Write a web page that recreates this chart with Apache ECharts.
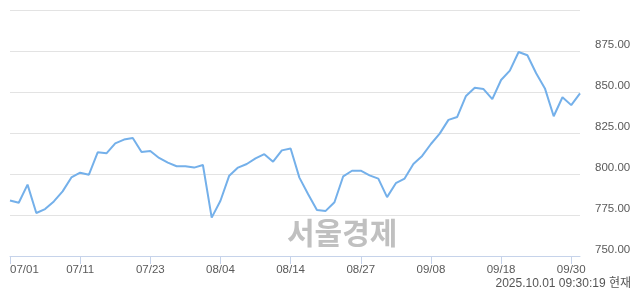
<!DOCTYPE html>
<html>
<head>
<meta charset="utf-8">
<script src="https://cdn.jsdelivr.net/npm/echarts@6/dist/echarts.min.js"></script>
<style>html,body{margin:0;padding:0;background:#fff}#c{width:640px;height:294px}</style>
</head>
<body>
<div id="c"></div>
<script>
const categories = [
 '07/01','07/02','07/03','07/04','07/07','07/08','07/09','07/10','07/11',
 '07/14','07/15','07/16','07/17','07/18','07/21','07/22','07/23',
 '07/24','07/25','07/28','07/29','07/30','07/31','08/01','08/04',
 '08/05','08/06','08/07','08/08','08/11','08/12','08/13','08/14',
 '08/18','08/19','08/20','08/21','08/22','08/25','08/26','08/27',
 '08/28','08/29','09/01','09/02','09/03','09/04','09/05','09/08',
 '09/09','09/10','09/11','09/12','09/15','09/16','09/17','09/18',
 '09/19','09/22','09/23','09/24','09/25','09/26','09/29','09/30','10/01'
];
const values = [
 783.8, 782.5, 793.5, 776.2, 778.6, 783.3, 789.4, 797.9, 800.8,
 799.6, 813.2, 812.6, 818.7, 821.0, 822.0, 813.4, 814.0,
 809.8, 806.9, 804.7, 804.7, 803.9, 805.5, 773.4, 783.7,
 799.0, 803.9, 806.1, 809.5, 812.1, 807.5, 814.4, 815.5,
 797.8, 787.7, 778.0, 777.5, 782.8, 798.6, 802.0, 802.0,
 799.2, 797.2, 785.9, 794.4, 797.2, 806.1, 811.0, 818.3,
 824.6, 833.0, 834.8, 847.6, 852.6, 851.8, 845.7, 857.3,
 863.0, 874.4, 872.4, 861.4, 852.2, 835.2, 846.8, 842.0, 849.2
];
const yTicks = { min: 750, max: 900, step: 25 };
const stampText = '2025.10.01 09:30:19 현재';
const watermarkText = '서울경제';

const chart = echarts.init(document.getElementById('c'), null, { renderer: 'canvas' });
const fontFam = '"Liberation Sans", Arial, "Noto Sans CJK KR", sans-serif';
chart.setOption({
  animation: false,
  backgroundColor: '#fff',
  grid: { left: 10, right: 60, top: 10, bottom: 38, containLabel: false },
  xAxis: {
    type: 'category',
    data: categories,
    boundaryGap: false,
    axisLine: { show: true, lineStyle: { color: '#c6d3ea', width: 1 } },
    axisTick: { show: true, interval: 7, length: 8, lineStyle: { color: '#c6d3ea' } },
    axisLabel: { interval: 7, margin: 8, color: '#5a5a5a', fontSize: 11.5, fontFamily: fontFam, alignMinLabel: 'left' },
    splitLine: { show: false }
  },
  yAxis: {
    type: 'value',
    position: 'right',
    min: yTicks.min, max: yTicks.max, interval: yTicks.step,
    axisLine: { show: false },
    axisTick: { show: false },
    axisLabel: {
      showMaxLabel: false, margin: 15, color: '#5a5a5a', fontSize: 11.5, fontFamily: fontFam,
      verticalAlign: 'bottom',
      formatter: v => v.toFixed(2)
    },
    splitLine: { show: true, lineStyle: { color: '#e3e3e3', width: 1 } }
  },
  graphic: [
    {
      type: 'text', left: 287, top: 218, silent: true, z: 0,
      style: { text: watermarkText, fill: '#c0c0c0', font: 'bold 30px "Noto Sans CJK KR", sans-serif' }
    },
    {
      type: 'text', right: 9, top: 278, silent: true,
      style: { text: stampText, fill: '#555', font: '12px "Liberation Sans", Arial, "Noto Sans CJK KR", sans-serif' }
    }
  ],
  series: [{
    type: 'line',
    data: values,
    symbol: 'none',
    smooth: false,
    lineStyle: { color: '#74b0ea', width: 2 },
    z: 3
  }]
});
</script>
</body>
</html>
